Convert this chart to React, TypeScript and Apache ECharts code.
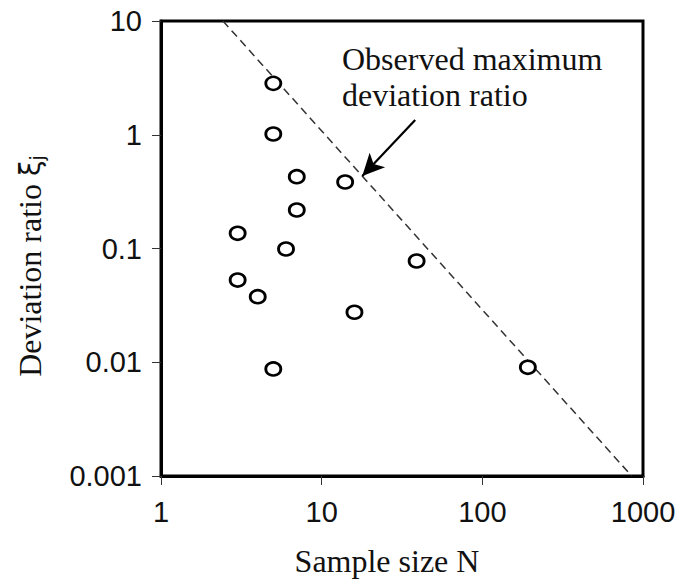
import React, { useEffect, useRef } from "react";
import * as echarts from "echarts";

const sampleSizes = [5, 5, 7, 7, 14, 3, 6, 3, 4, 16, 5, 39, 192];
const deviationRatios = [2.83, 1.016, 0.428, 0.218, 0.384, 0.136, 0.099, 0.0528, 0.0377, 0.0275, 0.00873, 0.0777, 0.00903];
const maxLineN = [2.43, 850];
const maxLineXi = [10, 0.001];
const arrowFrom = [38.2, 1.35];
const arrowTo = [17.9, 0.434];
const xTicks = ["1", "10", "100", "1000"];
const yTicks = ["0.001", "0.01", "0.1", "1", "10"];

export default function App() {
  const ref = useRef<HTMLDivElement>(null);
  useEffect(() => {
    if (!ref.current) return;
    const chart = echarts.init(ref.current, undefined, { renderer: "svg" });
    const fmt = (v: number) => Number(v.toPrecision(6)).toString();
    const tickFont = { fontFamily: "Liberation Sans", fontSize: 29, color: "#111" };
    chart.setOption({
      animation: false,
      backgroundColor: "#fff",
      grid: { left: 161, top: 21, right: 41, bottom: 106, show: true, borderColor: "#000", borderWidth: 3 },
      xAxis: {
        type: "log",
        logBase: 10,
        min: 1,
        max: 1000,
        name: "Sample size N",
        nameLocation: "middle",
        nameGap: 69,
        nameTextStyle: { fontFamily: "Liberation Serif", fontSize: 32, color: "#111", padding: [0, 30, 0, 0] },
        axisLine: { show: true, lineStyle: { color: "#000", width: 3 } },
        axisTick: { show: true, length: 9, lineStyle: { color: "#333", width: 1 } },
        minorTick: { show: false },
        splitLine: { show: false },
        axisLabel: { ...tickFont, margin: 21, formatter: (v: number) => { const s = fmt(v); return xTicks.includes(s) ? s : ""; } },
      },
      yAxis: {
        type: "log",
        logBase: 10,
        min: 0.001,
        max: 10,
        name: "{a|Deviation ratio }{b|ξ}{c|j}",
        nameLocation: "middle",
        nameGap: 115,
        nameTextStyle: {
          fontFamily: "Liberation Serif",
          fontSize: 32,
          color: "#111",
          padding: [0, 35, 0, 0],
          rich: {
            a: { fontFamily: "Liberation Serif", fontSize: 32, color: "#111" },
            b: { fontFamily: "DejaVu Sans", fontSize: 28, color: "#111" },
            c: { fontFamily: "DejaVu Sans", fontSize: 19, color: "#111", verticalAlign: "bottom", padding: [10, 0, 0, 0] },
          },
        },
        axisLine: { show: true, lineStyle: { color: "#000", width: 3 } },
        axisTick: { show: true, length: 9, lineStyle: { color: "#333", width: 1 } },
        splitLine: { show: false },
        axisLabel: { ...tickFont, margin: 19, formatter: (v: number) => { const s = fmt(v); return yTicks.includes(s) ? s : ""; } },
      },
      series: [
        {
          type: "line",
          data: maxLineN.map((n, i) => [n, maxLineXi[i]]),
          symbol: "none",
          lineStyle: { color: "#333", width: 1.5, type: [8, 5] },
          z: 2,
          silent: true,
        },
        {
          type: "scatter",
          data: sampleSizes.map((n, i) => [n, deviationRatios[i]]),
          symbol: "circle",
          symbolSize: [15, 13],
          itemStyle: { color: "#fff", borderColor: "#000", borderWidth: 2.7, opacity: 1 },
          z: 3,
          markLine: {
            silent: true,
            symbol: ["none", "arrow"],
            symbolSize: [16, 22],
            label: { show: false },
            lineStyle: { color: "#000", width: 2.2, type: "solid" },
            data: [[{ coord: arrowFrom }, { coord: arrowTo }]],
          },
        },
      ],
      graphic: [
        {
          type: "text",
          left: 342,
          top: 41,
          style: {
            text: "Observed maximum\ndeviation ratio",
            fontFamily: "Liberation Serif",
            fontSize: 32,
            lineHeight: 36,
            fill: "#111",
          },
        },
      ],
    });
    return () => chart.dispose();
  }, []);
  return <div ref={ref} style={{ position: "absolute", left: 0, top: 0, width: 684, height: 582 }} />;
}
